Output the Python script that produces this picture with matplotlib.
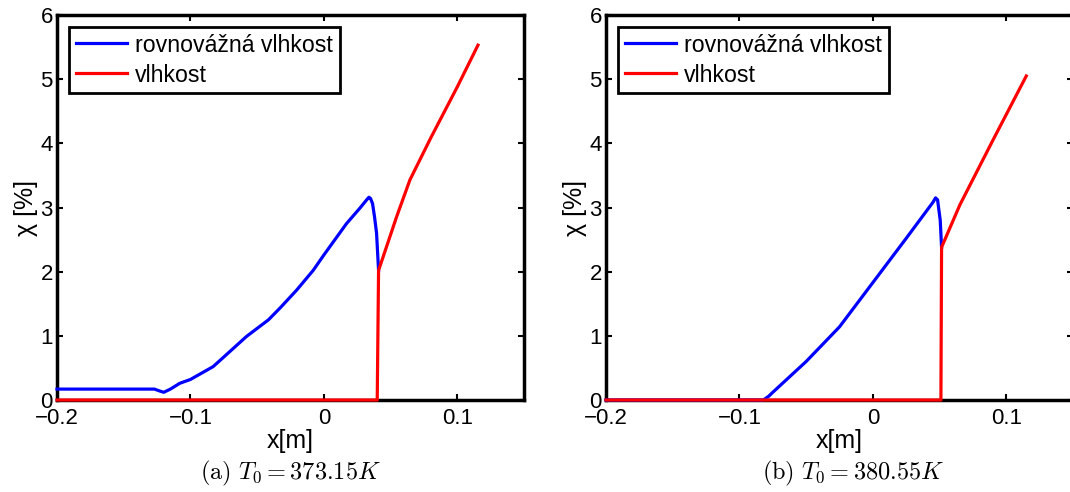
import matplotlib
matplotlib.use("Agg")
import matplotlib.pyplot as plt

plt.rcParams['font.family'] = ['Liberation Sans', 'DejaVu Sans']
plt.rcParams['mathtext.fontset'] = 'cm'

# Data
# panel (a) T0 = 373.15 K
a_eq_x = [-0.2, -0.127, -0.123, -0.120, -0.115, -0.108, -0.1, -0.083, -0.075, -0.058,
          -0.0415, -0.033, -0.0205, -0.008, 0.0, 0.017, 0.027, 0.0325, 0.0338, 0.035,
          0.0365, 0.038, 0.0395, 0.041]
a_eq_y = [0.17, 0.17, 0.14, 0.12, 0.17, 0.26, 0.32, 0.52, 0.67, 0.99,
          1.25, 1.43, 1.71, 2.02, 2.26, 2.75, 2.99, 3.13, 3.16, 3.14,
          3.06, 2.85, 2.60, 2.02]
a_m_x = [-0.2, 0.040, 0.041, 0.047, 0.0546, 0.0645, 0.08, 0.1, 0.1155]
a_m_y = [0, 0, 2.02, 2.39, 2.86, 3.43, 4.08, 4.88, 5.53]

# panel (b) T0 = 380.55 K
b_eq_x = [-0.2, -0.082, -0.078, -0.075, -0.05, -0.025, 0.0, 0.025, 0.045, 0.047,
          0.0485, 0.0505, 0.0515]
b_eq_y = [0, 0, 0.06, 0.12, 0.6, 1.14, 1.83, 2.52, 3.08, 3.15,
          3.12, 2.8, 2.38]
b_m_x = [-0.2, 0.051, 0.0515, 0.0652, 0.09, 0.115]
b_m_y = [0, 0, 2.38, 3.04, 4.05, 5.05]

xticks = [-0.2, -0.1, 0, 0.1]
xticklabels = ['\u22120.2', '\u22120.1', '0', '0.1']
yticks = [0, 1, 2, 3, 4, 5, 6]
captions = [r'$\mathrm{(a)}\ T_0 = 373.15K$', r'$\mathrm{(b)}\ T_0 = 380.55K$']

fig = plt.figure(figsize=(10.7, 4.92), dpi=100)
ax1 = fig.add_axes([57 / 1070, 92 / 492, 467 / 1070, 385 / 492])
ax2 = fig.add_axes([606 / 1070, 92 / 492, 467 / 1070, 385 / 492])

panels = [(ax1, a_eq_x, a_eq_y, a_m_x, a_m_y, captions[0], 0.5),
          (ax2, b_eq_x, b_eq_y, b_m_x, b_m_y, captions[1], 0.53)]

for ax, ex, ey, mx, my, cap, cx in panels:
    ax.plot(ex, ey, color=(0, 0, 1), lw=2.3, label='rovnovážná vlhkost',
            zorder=3, clip_on=False)
    ax.plot(mx, my, color=(1, 0, 0), lw=2.3, label='vlhkost',
            zorder=4, clip_on=False)
    ax.set_xlim(-0.2, 0.15)
    ax.set_ylim(0, 6)
    ax.set_xticks(xticks)
    ax.set_xticklabels(xticklabels)
    ax.set_yticks(yticks)
    ax.tick_params(direction='in', length=4, width=1.5, top=True, right=True,
                   labelsize=16, colors='black')
    ax.tick_params(axis='x', pad=6)
    ax.tick_params(axis='y', pad=3)
    for s in ax.spines.values():
        s.set_linewidth(2.5)
    ax.set_xlabel('x[m]', fontsize=18, labelpad=0)
    ax.set_ylabel('χ [%]', fontsize=18, labelpad=2)
    leg = ax.legend(loc='upper left', fontsize=16.7, handlelength=2.2,
                    borderaxespad=0.5, fancybox=False, framealpha=1,
                    borderpad=0.3, labelspacing=0.3, handletextpad=0.35)
    leg.get_frame().set_edgecolor('black')
    leg.get_frame().set_linewidth(2.0)
    ax.text(cx, -0.19, cap, transform=ax.transAxes, ha='center', va='center',
            fontsize=17.5)

fig.savefig('out.png', dpi=100)
